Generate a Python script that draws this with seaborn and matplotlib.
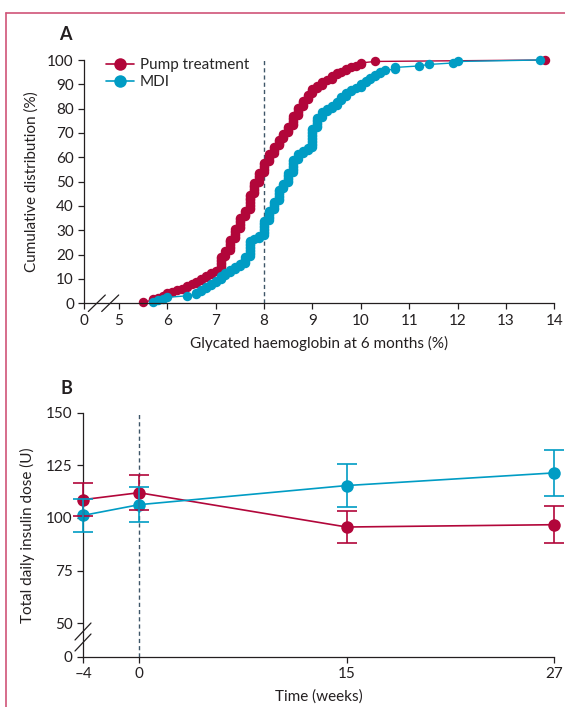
import numpy as np
import pandas as pd
import matplotlib
matplotlib.use("Agg")
import matplotlib.pyplot as plt
from matplotlib.lines import Line2D
import seaborn as sns

# %% — Data
# Panel A: HbA1c at 6 months (%, 0.1 steps) and number of patients at each value
pump_hba1c = [5.5, 5.7, 5.8, 5.9, 6.0, 6.1, 6.2, 6.3, 6.4, 6.5, 6.6, 6.7, 6.8, 6.9,
              7.0, 7.1, 7.2, 7.3, 7.4, 7.5, 7.6, 7.7, 7.8, 7.9, 8.0, 8.1, 8.2, 8.3,
              8.4, 8.5, 8.6, 8.7, 8.8, 8.9, 9.0, 9.1, 9.2, 9.3, 9.4, 9.5, 9.6, 9.7,
              9.8, 9.9, 10.0, 10.3, 13.8]
pump_n = [1, 2, 1, 1, 2, 1, 1, 1, 2, 1, 2, 2, 2, 2,
          1, 10, 4, 8, 7, 8, 5, 11, 8, 7, 7, 6, 5, 5,
          4, 5, 7, 6, 5, 4, 4, 2, 3, 1, 3, 2, 1, 2,
          1, 1, 2, 1, 1]

mdi_hba1c = [5.7, 5.8, 5.9, 6.0, 6.4, 6.6, 6.7, 6.8, 6.9, 7.0, 7.1, 7.2, 7.3, 7.4,
             7.5, 7.6, 7.7, 7.8, 7.9, 8.0, 8.1, 8.2, 8.3, 8.4, 8.5, 8.6, 8.7, 8.8,
             8.9, 9.0, 9.1, 9.2, 9.3, 9.4, 9.5, 9.6, 9.7, 9.8, 9.9, 10.0, 10.1, 10.2,
             10.3, 10.4, 10.5, 10.7, 11.2, 11.4, 11.9, 12.0, 13.7]
mdi_n = [1, 1, 1, 1, 1, 2, 2, 2, 2, 2, 3, 2, 2, 2,
         2, 5, 11, 1, 2, 10, 7, 6, 8, 4, 7, 9, 4, 2,
         2, 13, 7, 4, 2, 2, 3, 3, 3, 2, 1, 3, 2, 2,
         2, 2, 1, 2, 1, 1, 1, 1, 1]

hba1c_ticks = [0, 5, 6, 7, 8, 9, 10, 11, 12, 13, 14]
pct_ticks = [0, 10, 20, 30, 40, 50, 60, 70, 80, 90, 100]

# Panel B: total daily insulin dose, mean with error bars
weeks = [-4, 0, 15, 27]
week_labels = ["\u20134", "0", "15", "27"]
pump_dose = [108.7, 112.0, 95.7, 96.8]
pump_err = [8.0, 8.2, 7.5, 8.9]
mdi_dose = [101.2, 106.3, 115.4, 121.4]
mdi_err = [8.0, 8.4, 10.3, 11.0]
dose_ticks = [0, 50, 75, 100, 125, 150]

RED = "#B2063A"
BLUE = "#009CC4"
INK = "#231F20"
DASH = "#3E5668"

sns.set_style("ticks")
plt.rcParams.update({
    "font.family": ["Lato", "DejaVu Sans"],
    "font.size": 11,
    "axes.edgecolor": INK,
    "axes.labelcolor": INK,
    "xtick.color": INK,
    "ytick.color": INK,
    "axes.linewidth": 0.9,
    "xtick.major.width": 0.9,
    "ytick.major.width": 0.9,
    "xtick.major.size": 4,
    "ytick.major.size": 4,
    "xtick.labelsize": 11,
    "ytick.labelsize": 11,
})


def expand(values, counts, label):
    x = np.repeat(values, counts)
    n = len(x)
    return pd.DataFrame({"hba1c": x, "pct": np.arange(1, n + 1) / n * 100, "group": label})


df_a = pd.concat([expand(pump_hba1c, pump_n, "Pump treatment"),
                  expand(mdi_hba1c, mdi_n, "MDI")], ignore_index=True)


# axis scales with breaks (0–5 compressed on A's x, 0–50 on B's y, uneven weeks on B's x)
def brk_fwd(lo, k):
    return lambda v: np.where(v >= lo, v, lo - (lo - v) * k)


def brk_inv(lo, k):
    return lambda v: np.where(v >= lo, v, lo - (lo - v) / k)


wk_pos = [-104, -4, 0, 15, 27, 127]
wk_ax = [-1400, 0, 56, 263.7, 471, 1865]


def wk_fwd(v):
    return np.interp(v, wk_pos, wk_ax)


def wk_inv(v):
    return np.interp(v, wk_ax, wk_pos)


W, H = 565, 707
fig = plt.figure(figsize=(W / 100, H / 100), dpi=100)


def fx(px):
    return px / W


def fy(py):
    return 1 - py / H


# %% — Panel A
ax = fig.add_axes([fx(84.3), fy(303.3), fx(554.3 - 84.3), (303.3 - 60) / H])
ax.set_xscale("function", functions=(brk_fwd(5, 0.1434), brk_inv(5, 0.1434)))
ax.axvline(8, ymin=0, ymax=1, color=DASH, lw=1, ls=(0, (3, 2.2)), zorder=1)
sns.lineplot(data=df_a, x="hba1c", y="pct", hue="group",
             palette={"Pump treatment": RED, "MDI": BLUE},
             hue_order=["Pump treatment", "MDI"],
             estimator=None, sort=False, marker="o", markersize=6.8,
             markeredgewidth=0, linewidth=1, legend=False, ax=ax)
for l in ax.lines:
    l.set_clip_on(False)
ax.set_xlim(0, 14)
ax.set_ylim(0, 100)
ax.set_xticks(hba1c_ticks)
ax.set_xticklabels([str(t) for t in hba1c_ticks])
ax.set_yticks(pct_ticks)
ax.set_xlabel("Glycated haemoglobin at 6 months (%)", labelpad=6)
ax.set_ylabel("Cumulative distribution (%)", labelpad=6)
sns.despine(ax=ax)

handles = [Line2D([], [], color=c, marker="o", markersize=9, markeredgewidth=0, lw=1.2)
           for c in (RED, BLUE)]
ax.legend(handles, ["Pump treatment", "MDI"], loc="upper left",
          bbox_to_anchor=(0.03, 1.04), frameon=False, borderpad=0,
          handlelength=1.8, handletextpad=0.4, labelspacing=0.2, fontsize=11)

fig.text(fx(65), fy(35), "A", fontsize=13, fontweight="bold", color=INK,
         ha="center", va="center")

# break marks on the x axis
for x0 in (88.3, 101.7):
    fig.add_artist(Line2D([fx(x0), fx(x0 + 17)], [fy(311.5), fy(295)],
                          color=INK, lw=0.9))

# %% — Panel B
bx = fig.add_axes([fx(83), fy(656.7), fx(554 - 83), (656.7 - 412.7) / H])
bx.set_xscale("function", functions=(wk_fwd, wk_inv))
bx.set_yscale("function", functions=(brk_fwd(50, 0.318), brk_inv(50, 0.318)))
bx.axvline(0, color=DASH, lw=1, ls=(0, (3, 2.2)), zorder=1)

df_b = pd.DataFrame({
    "week": weeks * 2,
    "dose": pump_dose + mdi_dose,
    "err": pump_err + mdi_err,
    "group": ["Pump treatment"] * len(weeks) + ["MDI"] * len(weeks),
})
for grp, col in (("Pump treatment", RED), ("MDI", BLUE)):
    d = df_b[df_b["group"] == grp]
    bx.errorbar(d["week"], d["dose"], yerr=d["err"], fmt="none", ecolor=col,
                elinewidth=1.2, capsize=7, capthick=1.2, clip_on=False, zorder=3)
    sns.lineplot(data=d, x="week", y="dose", color=col, marker="o", markersize=9,
                 markeredgewidth=0, linewidth=1.2, estimator=None, ax=bx)
for l in bx.lines:
    l.set_clip_on(False)

bx.set_xlim(-4, 27)
bx.set_ylim(0, 150)
bx.set_xticks(weeks)
bx.set_xticklabels(week_labels)
bx.set_yticks(dose_ticks)
bx.set_yticklabels([str(t) for t in dose_ticks])
bx.set_xlabel("Time (weeks)", labelpad=6)
bx.set_ylabel("Total daily insulin dose (U)", labelpad=8)
sns.despine(ax=bx)

fig.text(fx(66), fy(388), "B", fontsize=13, fontweight="bold", color=INK,
         ha="center", va="center")

# break marks on the y axis
for y0 in (640, 651):
    fig.add_artist(Line2D([fx(75), fx(91)], [fy(y0), fy(y0 - 17)], color=INK, lw=0.9))

# pink panel frame
frame = "#CF5478"
fig.add_artist(Line2D([fx(6), 1], [fy(13), fy(13)], color=frame, lw=1.2))
fig.add_artist(Line2D([fx(6), fx(6)], [0, fy(13)], color=frame, lw=1.2))

fig.savefig("out.png", dpi=100)
